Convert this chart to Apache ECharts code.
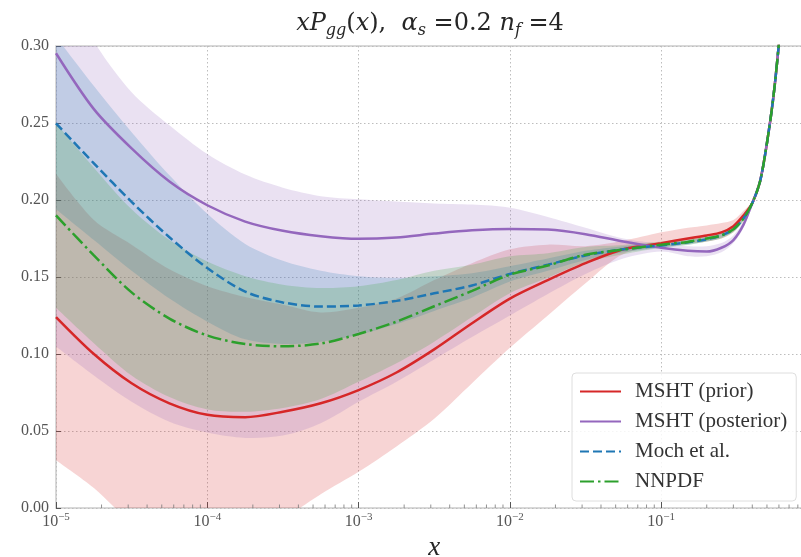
<!DOCTYPE html>
<html>
<head>
<meta charset="utf-8">
<script src="https://cdn.jsdelivr.net/npm/echarts@6/dist/echarts.min.js"></script>
<style>
html, body { margin: 0; padding: 0; background: #ffffff; }
#chart { width: 801px; height: 557px; }
</style>
</head>
<body>
<div id="chart"></div>
<script>
// Sampling points in x (log-spaced through 0.1, then linear steps towards x -> 1)
const xs = [1e-5, 1.78e-5, 3.16e-5, 5.62e-5, 1e-4, 1.78e-4, 3.16e-4, 5.62e-4, 1e-3, 1.78e-3, 3.16e-3, 5.62e-3,
            1e-2, 1.78e-2, 3.16e-2, 5.62e-2, 0.1, 0.15, 0.2, 0.25, 0.3, 0.35, 0.4, 0.45, 0.5, 0.55, 0.6, 0.65];

// MSHT (prior): central value and uncertainty band
const priorMid = [0.124, 0.100, 0.081, 0.068, 0.0605, 0.059, 0.0625, 0.068, 0.0766, 0.088, 0.103, 0.120,
                  0.136, 0.148, 0.159, 0.168, 0.172, 0.175, 0.177, 0.179, 0.183, 0.190, 0.198, 0.212, 0.237, 0.266, 0.302, 0.345];
const priorLo  = [0.031, 0.013, -0.009, -0.019, -0.023, -0.019, -0.007, 0.009, 0.0235, 0.040, 0.058, 0.081,
                  0.104, 0.125, 0.146, 0.165, 0.1695, 0.1715, 0.173, 0.175, 0.179, 0.187, 0.197, 0.211, 0.236, 0.265, 0.301, 0.344];
const priorHi  = [0.217, 0.187, 0.171, 0.155, 0.144, 0.137, 0.132, 0.127, 0.130, 0.136, 0.148, 0.159,
                  0.168, 0.171, 0.170, 0.1735, 0.179, 0.182, 0.1835, 0.185, 0.187, 0.193, 0.199, 0.213, 0.238, 0.267, 0.303, 0.346];

// MSHT (posterior)
const postMid = [0.2953, 0.259, 0.2335, 0.212, 0.1966, 0.186, 0.180, 0.1765, 0.1748, 0.1757, 0.1782, 0.1803,
                 0.1812, 0.1808, 0.1778, 0.173, 0.169, 0.167, 0.1665, 0.169, 0.174, 0.184, 0.198, 0.212, 0.237, 0.266, 0.302, 0.345];
const postLo  = [0.1048, 0.086, 0.069, 0.056, 0.049, 0.0455, 0.047, 0.055, 0.069, 0.082, 0.0965, 0.111,
                 0.125, 0.139, 0.152, 0.162, 0.1665, 0.1635, 0.1635, 0.166, 0.172, 0.182, 0.197, 0.211, 0.236, 0.265, 0.301, 0.344];
const postHi  = [0.350, 0.303, 0.270, 0.2485, 0.2298, 0.2165, 0.208, 0.2025, 0.2005, 0.199, 0.1978, 0.197,
                 0.195, 0.189, 0.182, 0.175, 0.1715, 0.170, 0.170, 0.172, 0.177, 0.186, 0.199, 0.213, 0.238, 0.267, 0.303, 0.346];

// Moch et al.
const mochMid = [0.2498, 0.2238, 0.1988, 0.1758, 0.1558, 0.1405, 0.1335, 0.1308, 0.1315, 0.1345, 0.1394, 0.1445,
                 0.152, 0.158, 0.164, 0.168, 0.1705, 0.1725, 0.1745, 0.177, 0.181, 0.188, 0.198, 0.212, 0.237, 0.266, 0.302, 0.345];
const mochLo  = [0.194, 0.174, 0.154, 0.136, 0.121, 0.1095, 0.1065, 0.108, 0.1125, 0.1195, 0.128, 0.1365,
                 0.147, 0.154, 0.161, 0.166, 0.169, 0.171, 0.173, 0.1755, 0.1795, 0.187, 0.197, 0.211, 0.236, 0.265, 0.301, 0.344];
const mochHi  = [0.306, 0.274, 0.244, 0.216, 0.191, 0.1715, 0.1605, 0.154, 0.1505, 0.1495, 0.1505, 0.1525,
                 0.157, 0.162, 0.167, 0.170, 0.172, 0.174, 0.176, 0.1785, 0.1825, 0.189, 0.199, 0.213, 0.238, 0.267, 0.303, 0.346];

// NNPDF
const nnpdfMid = [0.190, 0.164, 0.140, 0.123, 0.112, 0.1065, 0.105, 0.1068, 0.113, 0.121, 0.131, 0.141,
                  0.1515, 0.1575, 0.1645, 0.1678, 0.171, 0.1728, 0.175, 0.177, 0.181, 0.188, 0.198, 0.212, 0.237, 0.266, 0.302, 0.345];
const nnpdfLo  = [0.130, 0.107, 0.086, 0.072, 0.064, 0.0625, 0.065, 0.0708, 0.082, 0.094, 0.108, 0.124,
                  0.1395, 0.1495, 0.1595, 0.1648, 0.169, 0.1708, 0.173, 0.175, 0.179, 0.186, 0.197, 0.211, 0.236, 0.265, 0.301, 0.344];
const nnpdfHi  = [0.250, 0.221, 0.194, 0.174, 0.160, 0.1505, 0.145, 0.1428, 0.144, 0.148, 0.154, 0.158,
                  0.1635, 0.1655, 0.1695, 0.1708, 0.173, 0.1748, 0.177, 0.179, 0.183, 0.190, 0.199, 0.213, 0.238, 0.267, 0.303, 0.346];

const names = ['MSHT (prior)', 'MSHT (posterior)', 'Moch et al.', 'NNPDF'];
const colors = ['#d62728', '#9467bd', '#1f77b4', '#2ca02c'];
const yTicks = [0, 0.05, 0.10, 0.15, 0.20, 0.25, 0.30];

const SERIF = '"Liberation Serif", "DejaVu Serif", serif';
const MATH = '"DejaVu Serif", "Liberation Serif", serif';
const LABEL_GREY = '#555555';

// minor ticks of the log axis: 2..9 times each decade
const minorTicks = [];
for (let e = -5; e <= -1; e++) {
  for (let k = 2; k <= 9; k++) minorTicks.push(k * Math.pow(10, e));
}

const pairs = (ys) => xs.map((x, i) => [x, ys[i]]);
const SMOOTH = 0.3;

// a shaded band between lo and hi, drawn as one filled outline through the axis scales
function band(key, lo, hi, color) {
  return {
    type: 'custom', name: key + '-band', silent: true, z: 1,
    data: xs.map((x, i) => [x, lo[i], hi[i]]),
    renderItem: (params, api) => {
      if (params.dataIndex !== 0) return { type: 'group', children: [] };
      const pts = [];
      for (let i = 0; i < xs.length; i++) pts.push(api.coord([xs[i], hi[i]]));
      for (let i = xs.length - 1; i >= 0; i--) pts.push(api.coord([xs[i], lo[i]]));
      const cs = params.coordSys;
      return {
        type: 'polyline',
        shape: { points: pts, smooth: SMOOTH },
        style: { fill: color, opacity: 0.2, stroke: null, lineWidth: 0 },
        clipPath: { type: 'rect', shape: { x: cs.x, y: cs.y, width: cs.width, height: cs.height } }
      };
    }
  };
}

function curve(name, ys, color, dash) {
  return {
    type: 'line', name: name, data: pairs(ys), smooth: SMOOTH, symbol: 'none', showSymbol: false,
    silent: true, z: 3,
    lineStyle: { color: color, width: 2.5, type: dash || 'solid' },
    itemStyle: { color: color }
  };
}

const series = [
  band('prior', priorLo, priorHi, colors[0]),
  band('post', postLo, postHi, colors[1]),
  band('moch', mochLo, mochHi, colors[2]),
  band('nnpdf', nnpdfLo, nnpdfHi, colors[3]),
  curve(names[0], priorMid, colors[0]),
  curve(names[1], postMid, colors[1]),
  curve(names[2], mochMid, colors[2], [9, 4]),
  curve(names[3], nnpdfMid, colors[3], [14, 4, 2.5, 4]),
  {
    type: 'custom', name: 'minor-ticks', silent: true, z: 4,
    data: minorTicks.map(v => [v, 0]),
    renderItem: (params, api) => {
      const p = api.coord([api.value(0), 0]);
      return {
        type: 'line',
        shape: { x1: p[0], y1: p[1], x2: p[0], y2: p[1] - 3.5 },
        style: { stroke: '#777777', lineWidth: 0.8 }
      };
    }
  }
];

const chart = echarts.init(document.getElementById('chart'), null, { renderer: 'canvas' });
chart.setOption({
  animation: false,
  backgroundColor: '#ffffff',
  title: {
    text: '{i|xP}{sub|gg}{r|(}{i|x}{r|),  }{i|α}{sub|s}{r| =0.2 }{i|n}{sub|f}{r| =4}',
    left: 430, top: 8, textAlign: 'center', padding: 0,
    textStyle: {
      fontWeight: 'normal',
      rich: {
        i: { fontFamily: MATH, fontStyle: 'italic', fontWeight: 'normal', fontSize: 24, lineHeight: 31, color: '#262626' },
        r: { fontFamily: MATH, fontWeight: 'normal', fontSize: 24, lineHeight: 31, color: '#262626' },
        sub: { fontFamily: MATH, fontStyle: 'italic', fontWeight: 'normal', fontSize: 16, lineHeight: 14, verticalAlign: 'bottom', color: '#262626' }
      }
    }
  },
  grid: {
    left: 56, right: -11.5, top: 46, bottom: 49,
    show: true, borderColor: '#cccccc', borderWidth: 1.5, backgroundColor: 'transparent',
    outerBoundsMode: 'none', containLabel: false
  },
  legend: {
    data: names, orient: 'vertical', left: 572, top: 373,
    itemWidth: 41, itemHeight: 14, itemGap: 9,
    padding: [8, 9, 9, 7],
    backgroundColor: 'rgba(255,255,255,0.85)', borderColor: '#dedede', borderWidth: 1, borderRadius: 4,
    selectedMode: false,
    itemStyle: { opacity: 0 },
    textStyle: { fontFamily: SERIF, fontSize: 21, color: '#333333', lineHeight: 20, padding: [0, 0, 0, 9] }
  },
  xAxis: {
    type: 'log', logBase: 10, min: 1e-5, max: 1,
    name: 'x', nameLocation: 'middle', nameGap: 26,
    nameTextStyle: { fontFamily: SERIF, fontStyle: 'italic', fontSize: 27, color: '#262626' },
    axisLine: { show: false },
    axisTick: { show: true, inside: true, length: 6, lineStyle: { color: '#555555', width: 1 } },
    axisLabel: {
      margin: 4, showMaxLabel: false,
      formatter: (v) => {
        const e = Math.round(Math.log10(v));
        if (Math.abs(Math.log10(v) - e) > 1e-6 || e >= 0) return '';
        return '{b|10}{s|\u2212' + (-e) + '}';
      },
      rich: {
        b: { fontFamily: SERIF, fontSize: 16, lineHeight: 20, color: LABEL_GREY },
        s: { fontFamily: SERIF, fontSize: 11, lineHeight: 10, verticalAlign: 'top', color: LABEL_GREY }
      }
    },
    splitLine: { show: true, lineStyle: { color: '#bdbdbd', width: 1, type: [1.5, 2.5] } }
  },
  yAxis: {
    type: 'value', min: 0, max: 0.3, interval: 0.05,
    axisLine: { show: false },
    axisTick: { show: true, inside: true, length: 5, lineStyle: { color: '#555555', width: 1 } },
    axisLabel: {
      margin: 7, fontFamily: SERIF, fontSize: 16, color: LABEL_GREY,
      formatter: (v) => {
        const t = yTicks.find(q => Math.abs(q - v) < 1e-9);
        return t === undefined ? '' : t.toFixed(2);
      }
    },
    splitLine: { show: true, lineStyle: { color: '#bdbdbd', width: 1, type: [1.5, 2.5] } }
  },
  series: series
});
</script>
</body>
</html>
